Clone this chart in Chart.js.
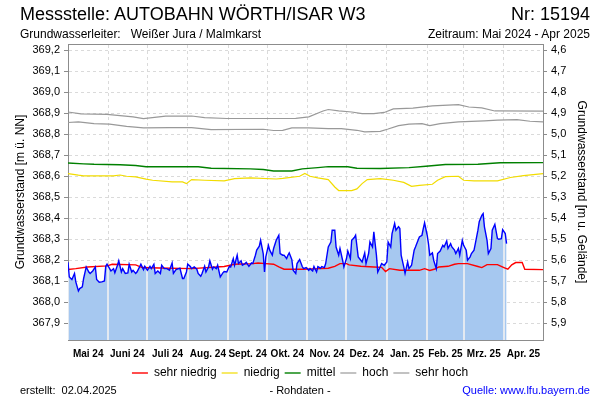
<!DOCTYPE html>
<html>
<head>
<meta charset="utf-8">
<script src="https://cdn.jsdelivr.net/npm/chart.js@4.4.1/dist/chart.umd.min.js"></script>
<style>
  body { margin: 0; background: #fff; font-family: "Liberation Sans", Arial, sans-serif; }
  #wrap { position: relative; width: 600px; height: 400px; }
  #gwChart { position: absolute; left: 0; top: 0; }
  .t { position: absolute; white-space: nowrap; color: #000; line-height: 1; }
</style>
</head>
<body>
<div id="wrap">
  <canvas id="gwChart" width="600" height="400"></canvas>
  <div class="t" style="left:20px;top:5px;font-size:18px">Messstelle: AUTOBAHN WÖRTH/ISAR W3</div>
  <div class="t" style="right:10px;top:5px;font-size:18px">Nr: 15194</div>
  <div class="t" style="left:20px;top:28px;font-size:12px">Grundwasserleiter:&nbsp;&nbsp; Weißer Jura / Malmkarst</div>
  <div class="t" style="right:10px;top:28px;font-size:12px">Zeitraum: Mai 2024 - Apr 2025</div>
  <div class="t" style="left:20px;top:385px;font-size:11px">erstellt:&nbsp; 02.04.2025</div>
  <div class="t" style="left:0;width:600px;text-align:center;top:385px;font-size:11px">- Rohdaten -</div>
  <div class="t" style="right:10px;top:385px;font-size:11px;color:#0000ff">Quelle: www.lfu.bayern.de</div>
</div>
<script>
// x = Tage seit 01.05.2024
const monthStarts = [0, 31, 61, 92, 123, 153, 184, 214, 245, 276, 304, 335, 365];
const monthMids = [15.5, 45.5, 76.5, 107.5, 138, 168.5, 199, 229.5, 260.5, 290, 319.5, 350];
const monthLabels = ['Mai 24', 'Juni 24', 'Juli 24', 'Aug. 24', 'Sept. 24', 'Okt. 24', 'Nov. 24',
                     'Dez. 24', 'Jan. 25', 'Feb. 25', 'Mrz. 25', 'Apr. 25'];
const levelTicks = [367.9, 368.0, 368.1, 368.2, 368.3, 368.4, 368.5, 368.6, 368.7, 368.8, 368.9, 369.0, 369.1, 369.2];
const depthTicks = [4.6, 4.7, 4.8, 4.9, 5.0, 5.1, 5.2, 5.3, 5.4, 5.5, 5.6, 5.7, 5.8, 5.9];

// Messwerte (Rohdaten)
const obsDays = [0,1,3,5,6,8,9,11,12,14,16,17,19,21,22,24,26,28,29,30,32,33,35,36,38,39,41,42,44,46,47,49,50,52,53,55,56,58,59,61,
  63,64,66,67,69,71,72,74,76,78,80,81,83,85,86,88,89,91,92,94,95,97,99,100,102,103,105,106,108,109,111,112,114,115,117,119,120,122,124,125,
  127,128,130,131,133,134,136,137,139,141,142,144,145,147,148,150,151,152,154,155,157,158,160,162,163,165,166,168,169,170,172,173,175,176,178,180,181,183,185,186,
  188,189,191,192,194,195,197,198,200,202,203,205,206,208,209,211,212,214,215,217,218,220,221,223,225,226,228,229,231,232,234,235,237,238,240,241,243,245,246,248,
  249,251,252,254,255,256,258,259,261,262,264,266,267,269,270,272,273,274,276,277,278,280,281,283,284,286,288,289,291,292,294,295,297,298,300,301,303,304,306,307,
  309,310,312,313,315,316,318,319,320,322,323,325,326,328,330,331,333,334,336,337];
const obsLevel = [368.19,368.12,368.108,368.137,368.097,368.054,368.065,368.073,368.113,368.168,368.144,368.137,368.149,368.168,368.108,368.095,368.097,368.101,368.171,368.181,
  368.16,368.149,368.16,368.14,368.176,368.197,368.144,368.16,368.137,368.14,368.181,368.144,368.152,368.137,368.144,368.168,368.181,368.155,368.171,368.152,
  368.171,368.16,368.181,368.137,368.149,368.137,368.176,368.16,368.16,368.152,368.187,368.137,368.155,368.16,368.162,368.113,368.113,368.144,368.181,368.17,
  368.16,368.168,368.157,368.137,368.124,368.137,368.171,368.144,368.168,368.197,368.157,368.168,368.16,368.176,368.12,368.14,368.146,368.144,368.171,368.168,
  368.208,368.176,368.224,368.184,368.197,368.176,368.184,368.19,368.171,368.187,368.184,368.224,368.248,368.267,368.295,368.232,368.144,368.216,368.271,368.248,
  368.224,368.256,368.295,368.319,368.232,368.224,368.224,368.208,368.224,368.235,368.203,368.152,368.137,368.184,368.203,368.17,368.16,368.165,368.152,368.16,
  368.149,368.17,368.144,368.17,368.162,368.17,368.165,368.184,368.263,368.287,368.343,368.343,368.263,368.224,368.256,368.2,368.168,368.208,368.244,368.208,
  368.295,368.308,368.319,368.216,368.2,368.192,368.235,368.184,368.232,368.287,368.263,368.335,368.224,368.144,368.17,368.184,368.176,368.192,368.287,368.263,
  368.327,368.375,368.343,368.36,368.351,368.224,368.168,368.137,368.192,368.16,368.176,368.248,368.263,368.295,368.311,368.319,368.351,368.378,368.319,368.279,
  368.224,368.235,368.2,368.16,368.232,368.244,368.271,368.263,368.292,368.256,368.279,368.263,368.248,368.232,368.256,368.224,368.295,368.271,368.248,368.2,
  368.216,368.232,368.248,368.279,368.343,368.383,368.414,368.422,368.359,368.295,368.232,368.256,368.343,368.371,368.303,368.3,368.303,368.346,368.327,368.279];

// Kennlinien
const redDays = [0,6,15,30,34,52,57,70,95,120,128,142,146,152,158,162,166,180,194,200,205,209,214,216,225,235,241,244,247,255,
  270,274,278,282,285,292,297,300,307,315,318,322,330,335,338,341,344,349,351,365];
const redLevel = [368.156,368.16,368.168,368.173,368.181,368.178,368.165,368.163,368.16,368.17,368.181,368.184,368.187,368.184,368.181,368.168,368.157,368.157,368.16,368.162,
  368.171,368.184,368.184,368.178,368.171,368.168,368.166,368.146,368.16,368.152,368.152,368.16,368.151,368.158,368.168,368.171,368.181,368.184,368.184,368.17,
  368.165,368.179,368.179,368.165,368.157,368.178,368.189,368.189,368.157,368.155];
const yellowDays = [0,8,12,35,40,45,52,60,65,80,88,91,95,105,120,128,140,160,165,178,182,186,192,200,205,208,218,222,226,230,
  240,250,258,264,270,280,284,290,300,304,312,330,340,350,365];
const yellowLevel = [368.613,368.605,368.602,368.602,368.606,368.6,368.597,368.586,368.581,368.573,368.573,368.565,368.584,368.581,368.578,368.589,368.592,368.587,368.59,368.6,
  368.613,368.6,368.592,368.584,368.549,368.532,368.532,368.54,368.565,368.584,368.589,368.581,368.571,368.552,368.557,368.562,368.581,368.598,368.6,368.581,
  368.578,368.578,368.594,368.603,368.613];
const greenDays = [0,12,20,40,52,60,100,110,140,150,158,172,180,192,200,215,222,240,262,275,290,315,332,365];
const greenLevel = [368.663,368.659,368.657,368.655,368.651,368.645,368.645,368.638,368.635,368.632,368.625,368.625,368.635,368.641,368.646,368.645,368.638,368.637,368.641,368.648,
  368.656,368.657,368.664,368.665];
const hochDays = [0,8,20,32,45,58,78,95,110,150,158,165,172,185,200,210,222,228,240,246,254,262,272,278,286,300,320,330,345,355,365];
const hochLevel = [368.856,368.859,368.851,368.848,368.838,368.83,368.832,368.832,368.822,368.824,368.818,368.819,368.83,368.83,368.827,368.827,368.819,368.811,368.814,368.825,
  368.841,368.848,368.851,368.841,368.851,368.859,368.864,368.867,368.87,368.862,368.859];
const sehrHochDays = [0,10,30,38,50,58,75,95,105,122,175,185,196,200,208,218,226,235,243,250,265,280,300,308,318,328,365];
const sehrHochLevel = [368.906,368.897,368.895,368.89,368.883,368.875,368.886,368.887,368.879,368.875,368.876,368.883,368.911,368.918,368.911,368.906,368.898,368.898,368.904,368.921,
  368.925,368.935,368.941,368.93,368.926,368.911,368.91];

const GELAENDE = 373.8; // m ü. NN
const FONT = '"Liberation Sans", Arial, sans-serif';

const pts = (days, vals) => days.map((d, i) => ({ x: d, y: vals[i] }));

const line = (label, days, vals, color, width) => ({
    label: label,
    data: pts(days, vals),
    borderColor: color,
    backgroundColor: color,
    borderWidth: width,
    pointRadius: 0,
    fill: false,
    tension: 0
});

// helle Monatslinien innerhalb der Fläche
const fillGrid = {
    id: 'fillGrid',
    afterDatasetDraw(chart, args) {
        if (args.index !== 6) return;
        const p = args.meta.data;
        const area = chart.chartArea;
        const ctx = chart.ctx;
        ctx.save();
        ctx.beginPath();
        ctx.moveTo(p[0].x, area.bottom);
        p.forEach(pt => ctx.lineTo(pt.x, pt.y));
        ctx.lineTo(p[p.length - 1].x, area.bottom);
        ctx.closePath();
        ctx.clip();
        ctx.strokeStyle = '#e3e9f1';
        ctx.lineWidth = 2;
        monthStarts.forEach(d => {
            const x = Math.round(chart.scales.x.getPixelForValue(d));
            ctx.beginPath();
            ctx.moveTo(x, area.top);
            ctx.lineTo(x, area.bottom);
            ctx.stroke();
        });
        ctx.restore();
    }
};

const ctx = document.getElementById('gwChart').getContext('2d');
new Chart(ctx, {
    type: 'line',
    data: {
        datasets: [
            line('', obsDays, obsLevel, '#0000ff', 1.4),
            line('sehr niedrig', redDays, redLevel, '#ff0000', 1.4),
            line('niedrig', yellowDays, yellowLevel, '#f2dc00', 1.2),
            line('mittel', greenDays, greenLevel, '#008000', 1.4),
            line('hoch', hochDays, hochLevel, '#999999', 1.2),
            line('sehr hoch', sehrHochDays, sehrHochLevel, '#999999', 1.2),
            {
                label: '',
                data: pts(obsDays, obsLevel),
                borderWidth: 0,
                borderColor: 'rgba(0,0,0,0)',
                backgroundColor: '#a6c8f0',
                pointRadius: 0,
                fill: 'start',
                tension: 0
            }
        ]
    },
    options: {
        responsive: false,
        animation: false,
        layout: { padding: { left: 0, right: 0, top: 0, bottom: 11 } },
        plugins: {
            tooltip: { enabled: false },
            legend: {
                position: 'bottom',
                labels: {
                    usePointStyle: true,
                    pointStyle: 'line',
                    pointStyleWidth: 16,
                    boxHeight: 12,
                    padding: 5,
                    color: '#000',
                    font: { family: FONT, size: 12 },
                    filter: item => item.text !== ''
                }
            }
        },
        scales: {
            x: {
                type: 'linear',
                position: 'bottom',
                min: 0,
                max: 365,
                afterBuildTicks: s => { s.ticks = monthMids.map(v => ({ value: v })); },
                afterFit: s => { s.height = 22; },
                ticks: {
                    autoSkip: false,
                    maxRotation: 0,
                    padding: 0,
                    color: '#000',
                    font: { family: FONT, size: 10, weight: 'bold' },
                    callback: (v, i) => monthLabels[i]
                },
                grid: { display: false },
                border: { display: true, color: '#8c8c8c' }
            },
            xMonths: {
                type: 'linear',
                position: 'top',
                min: 0,
                max: 365,
                afterBuildTicks: s => { s.ticks = monthStarts.map(v => ({ value: v })); },
                afterFit: s => { s.height = 44; },
                ticks: { display: false },
                grid: { color: '#dadada', drawTicks: false },
                border: { display: true, color: '#8c8c8c', dash: [3, 3] }
            },
            y: {
                position: 'left',
                min: 367.82,
                max: 369.23,
                afterBuildTicks: s => { s.ticks = levelTicks.map(v => ({ value: v })); },
                afterFit: s => { s.width = 68; },
                ticks: {
                    padding: 4,
                    color: '#000',
                    font: { family: FONT, size: 11 },
                    callback: v => v.toFixed(1).replace('.', ',')
                },
                grid: { color: '#dadada', tickColor: '#8c8c8c', tickLength: 4 },
                border: { color: '#8c8c8c', dash: [3, 3] },
                title: {
                    display: true,
                    text: 'Grundwasserstand [m ü. NN]',
                    color: '#000',
                    font: { family: FONT, size: 12 },
                    padding: { top: 13, bottom: 0 }
                }
            },
            y2: {
                position: 'right',
                reverse: true,
                min: GELAENDE - 369.23,
                max: GELAENDE - 367.82,
                afterBuildTicks: s => { s.ticks = depthTicks.map(v => ({ value: v })); },
                afterFit: s => { s.width = 57; },
                ticks: {
                    padding: 4,
                    color: '#000',
                    font: { family: FONT, size: 11 },
                    callback: v => v.toFixed(1).replace('.', ',')
                },
                grid: { drawOnChartArea: false, tickColor: '#8c8c8c', tickLength: 4 },
                border: { color: '#8c8c8c' },
                title: {
                    display: true,
                    text: 'Grundwasserstand [m u. Gelände]',
                    color: '#000',
                    font: { family: FONT, size: 12 },
                    padding: { top: 11, bottom: 0 }
                }
            }
        }
    },
    plugins: [fillGrid]
});
</script>
</body>
</html>
